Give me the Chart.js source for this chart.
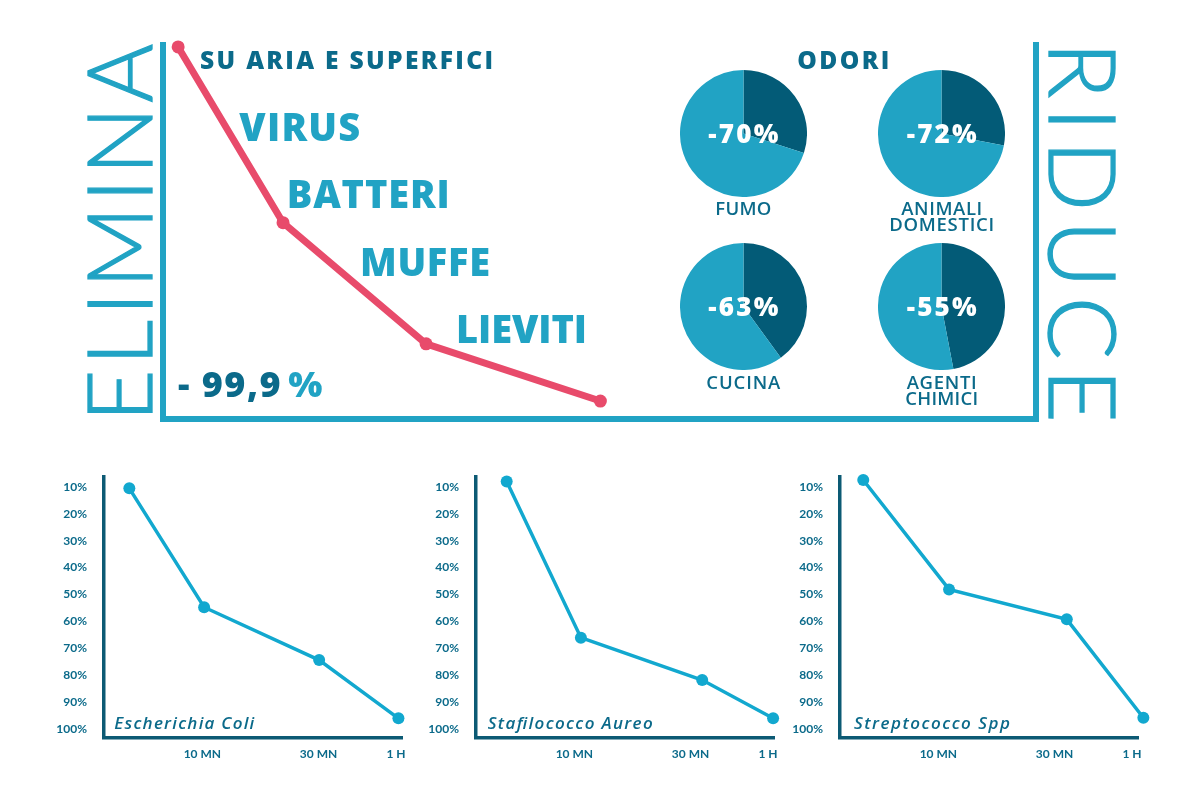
<!DOCTYPE html>
<html>
<head>
<meta charset="utf-8">
<script src="https://cdn.jsdelivr.net/npm/chart.js"></script>
<style>
  body { margin: 0; background: #fff; }
  #page { position: relative; width: 1200px; height: 808px; overflow: hidden; font-family: "Open Sans", sans-serif; }
  canvas { position: absolute; }
  /* frame around the top block */
  .frame {
    position: absolute; left: 160px; top: 42px; width: 879px; height: 380px;
    box-sizing: border-box; border: 6px solid #21a3c4; border-top: none;
  }
  #txt { position: absolute; left: 0; top: 0; pointer-events: none; }
</style>
</head>
<body>
<div id="page">
  <div class="frame"></div>
  <canvas id="curve" width="867" height="384" style="left:166px; top:32px;"></canvas>
  <canvas id="pie0" width="127" height="127"></canvas>
  <canvas id="pie1" width="127" height="127"></canvas>
  <canvas id="pie2" width="127" height="127"></canvas>
  <canvas id="pie3" width="127" height="127"></canvas>
  <canvas id="germ0" width="370" height="300"></canvas>
  <canvas id="germ1" width="370" height="300"></canvas>
  <canvas id="germ2" width="370" height="300"></canvas>
  <svg id="txt" width="1200" height="808"></svg>
</div>

<script>
// --- data ---

// top curve (what is left, %)
const curveX = [1.4, 13.5, 30.0, 50.1];
const curveY = [98.7, 51.7, 19.3, 4.0];
const germLabels = ['VIRUS', 'BATTERI', 'MUFFE', 'LIEVITI'];

// odours
const odorNames = [['FUMO'], ['ANIMALI', 'DOMESTICI'], ['CUCINA'], ['AGENTI', 'CHIMICI']];
const odorCuts = [70, 72, 63, 55];
const odorDarkShare = [30, 28, 40, 47];

// small charts
const timeTicks = [33, 72, 98];
const timeLabels = ['10 MN', '30 MN', '1 H'];
const pctTicks = [10, 20, 30, 40, 50, 60, 70, 80, 90, 100];
const germNames = ['Escherichia Coli', 'Stafilococco Aureo', 'Streptococco Spp'];
const ecoliX = [8.5, 33.6, 72.2, 98.8];
const ecoliY = [10.6, 54.7, 74.3, 95.9];
const aureoX = [10.3, 35.2, 75.9, 99.7];
const aureoY = [8.1, 66.0, 81.7, 95.9];
const streptoX = [7.8, 36.6, 76.1, 101.8];
const streptoY = [7.5, 48.1, 59.2, 95.7];

// colours
const LIGHT = '#21a3c4';
const DARK = '#0b6a8a';
const PIE_DARK = '#035b77';
const RED = '#e84b6b';
const LINE = '#12a8cf';
const AXIS = '#0c5a74';

const toPoints = (xs, ys) => xs.map((x, i) => ({ x, y: ys[i] }));

// --- top red curve ---
new Chart(document.getElementById('curve'), {
  type: 'line',
  data: {
    datasets: [{
      data: toPoints(curveX, curveY),
      borderColor: RED,
      borderWidth: 7,
      pointRadius: 6.5,
      pointBackgroundColor: RED,
      pointBorderWidth: 0,
      clip: false
    }]
  },
  options: {
    responsive: false,
    animation: false,
    events: [],
    layout: { padding: 0, autoPadding: false },
    plugins: { legend: { display: false }, tooltip: { enabled: false } },
    scales: {
      x: { type: 'linear', display: false, min: 0, max: 100 },
      y: { display: false, min: 0, max: 102.7 }
    }
  }
});

// --- odour pies ---
const pieCenters = [[743.3, 133.3], [941.7, 133.3], [743.3, 306.7], [941.7, 306.7]];
odorDarkShare.forEach((dark, i) => {
  const el = document.getElementById('pie' + i);
  el.style.left = (pieCenters[i][0] - 63.5) + 'px';
  el.style.top = (pieCenters[i][1] - 63.5) + 'px';
  new Chart(el, {
    type: 'pie',
    data: {
      datasets: [{
        data: [dark, 100 - dark],
        backgroundColor: [PIE_DARK, LIGHT],
        borderWidth: 0
      }]
    },
    options: {
      responsive: false,
      animation: false,
      events: [],
      layout: { padding: 0, autoPadding: false },
      plugins: { legend: { display: false }, tooltip: { enabled: false } }
    }
  });
});

// --- three small charts ---
const germSeries = [[ecoliX, ecoliY], [aureoX, aureoY], [streptoX, streptoY]];
const germLefts = [55, 427, 791];
const tickFont = { family: 'Lato', weight: 'bold', size: 12 };

germSeries.forEach(([xs, ys], i) => {
  const el = document.getElementById('germ' + i);
  el.style.left = germLefts[i] + 'px';
  el.style.top = '470px';
  new Chart(el, {
    type: 'line',
    data: {
      datasets: [{
        data: toPoints(xs, ys),
        borderColor: LINE,
        borderWidth: 3.5,
        pointRadius: 6,
        pointBackgroundColor: LINE,
        pointBorderWidth: 0,
        clip: false
      }]
    },
    options: {
      responsive: false,
      animation: false,
      events: [],
      layout: { padding: { top: 7, right: 23, left: 0, bottom: 0 }, autoPadding: false },
      plugins: { legend: { display: false }, tooltip: { enabled: false } },
      scales: {
        x: {
          type: 'linear', min: 0, max: 100,
          grid: { display: false },
          border: { display: true, color: AXIS, width: 3.5 },
          afterBuildTicks: s => { s.ticks = timeTicks.map(v => ({ value: v })); },
          afterFit: s => { s.height = 32; s.paddingLeft = 0; s.paddingRight = 0; },
          ticks: {
            autoSkip: false, maxRotation: 0, padding: 1, color: DARK,
            font: tickFont,
            callback: (v, idx) => timeLabels[idx]
          }
        },
        y: {
          reverse: true, min: 6.4, max: 103.2,
          grid: { display: false },
          border: { display: true, color: AXIS, width: 3.5 },
          afterBuildTicks: s => { s.ticks = pctTicks.map(v => ({ value: v })); },
          afterFit: s => { s.width = 49; s.paddingTop = 0; s.paddingBottom = 0; },
          ticks: {
            autoSkip: false, padding: 9, color: DARK,
            font: tickFont,
            callback: v => v + '%'
          }
        }
      }
    }
  });
});

// --- text layer ---
const svg = document.getElementById('txt');
function addText(str, x, y, o) {
  const t = document.createElementNS('http://www.w3.org/2000/svg', 'text');
  t.textContent = str;
  t.setAttribute('x', x);
  t.setAttribute('y', y);
  t.setAttribute('font-family', o.family || '"Open Sans", sans-serif');
  t.setAttribute('font-size', o.size);
  t.setAttribute('font-weight', o.weight || 800);
  t.setAttribute('fill', o.color);
  if (o.anchor) t.setAttribute('text-anchor', o.anchor);
  if (o.italic) t.setAttribute('font-style', 'italic');
  if (o.stroke) {
    t.setAttribute('stroke', o.color);
    t.setAttribute('stroke-width', o.stroke);
  }
  if (o.len) {
    t.setAttribute('textLength', o.len);
    t.setAttribute('lengthAdjust', 'spacing');
  }
  if (o.transform) t.setAttribute('transform', o.transform);
  svg.appendChild(t);
  return t;
}

// side words
addText('ELIMINA', 0, 0, { family: 'Lato, sans-serif', size: 90, weight: 300, stroke: 1.3, color: LIGHT, len: 378, transform: 'translate(151.7 421.7) rotate(-90)' });
addText('RIDUCE', 0, 0, { family: 'Lato, sans-serif', size: 93, weight: 300, stroke: 1.3, color: LIGHT, len: 381, transform: 'translate(1049.3 41.7) rotate(90)' });

// headings
addText('SU ARIA E SUPERFICI', 200, 69.3, { size: 24.6, color: DARK, len: 293 });
addText('ODORI', 843.3, 69.3, { size: 24.6, color: DARK, anchor: 'middle', len: 92 });

// germ words next to the curve
const germLabelPos = [[239.3, 140.7, 121], [286.7, 208.3, 163], [360, 276, 130], [456, 343.3, 131]];
germLabels.forEach((g, i) => {
  const [x, y, w] = germLabelPos[i];
  addText(g, x, y, { size: 38, color: LIGHT, len: w });
});

// - 99,9 %
addText('-', 178, 396.7, { size: 36, color: DARK, len: 14 });
addText('99,9', 201.7, 396.7, { size: 36, color: DARK, len: 79 });
addText('%', 288.3, 396.7, { size: 36, color: LIGHT, len: 34 });

// pie labels
const odorNameWidths = [[56], [81, 105], [74], [70, 73]];
const odorNameBase = [215, 215, 389.3, 389.3];
odorNames.forEach((lines, i) => {
  const [cx, cy] = pieCenters[i];
  addText('-' + odorCuts[i] + '%', cx, cy + 9.7, { size: 26, color: '#ffffff', anchor: 'middle', len: 70 });
  lines.forEach((ln, k) => {
    addText(ln, cx, odorNameBase[i] + k * 15.5, { size: 18.5, weight: 600, color: DARK, anchor: 'middle', len: odorNameWidths[i][k] });
  });
});

// small chart titles
const germNameX = [114.3, 487.7, 854];
const germNameW = [140, 165, 156];
germNames.forEach((n, i) => {
  addText(n, germNameX[i], 729, { size: 17, weight: 600, italic: true, color: DARK, len: germNameW[i] });
});
</script>
</body>
</html>
